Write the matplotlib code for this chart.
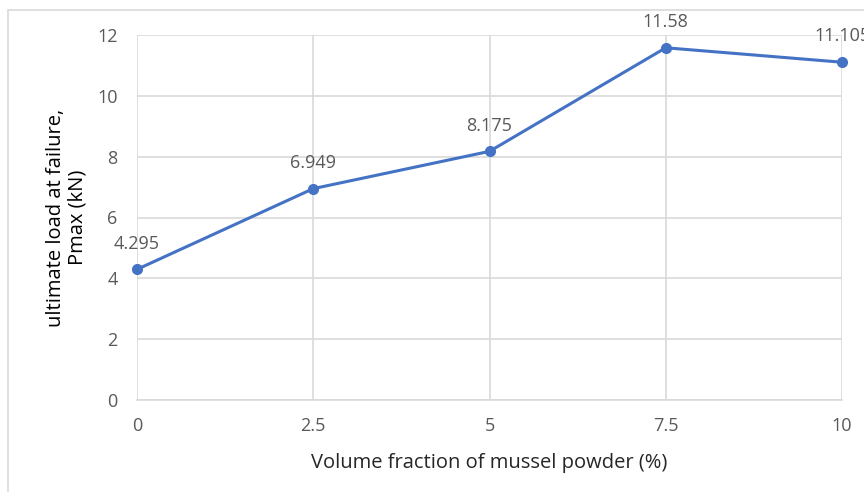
import matplotlib.pyplot as plt
from matplotlib.patches import Rectangle

plt.rcParams['font.family'] = ['Open Sans', 'DejaVu Sans']

volume_fraction = [0, 2.5, 5, 7.5, 10]
ultimate_load = [4.295, 6.949, 8.175, 11.58, 11.105]
load_labels = ['4.295', '6.949', '8.175', '11.58', '11.105']
y_ticks = [0, 2, 4, 6, 8, 10, 12]
x_ticks = [0, 2.5, 5, 7.5, 10]
x_tick_labels = ['0', '2.5', '5', '7.5', '10']

fig = plt.figure(figsize=(8.64, 4.92), dpi=100)
ax = fig.add_axes([137 / 864, 1 - 400 / 492, (842 - 137) / 864, (400 - 35) / 492])

# chart area border (light grey, only left/top visible in the crop)
fig.patches.append(Rectangle((8 / 864, -0.1), 1.2, 1 - 10 / 492 + 0.1,
                             transform=fig.transFigure, fill=False,
                             edgecolor='#d9d9d9', linewidth=1.2))

ax.plot(volume_fraction, ultimate_load, color='#4472c4', linewidth=2.2,
        marker='o', markersize=7, zorder=3, clip_on=False)

for x, y, lab in zip(volume_fraction, ultimate_load, load_labels):
    ax.annotate(lab, (x, y), xytext=(0, 15), textcoords='offset points',
                ha='center', va='baseline', fontsize=13, color='#595959',
                annotation_clip=False)

ax.set_xlim(0, 10)
ax.set_ylim(0, 12)
ax.set_xticks(x_ticks)
ax.set_xticklabels(x_tick_labels)
ax.set_yticks(y_ticks)
ax.grid(True, color='#d9d9d9', linewidth=1.2)
ax.set_axisbelow(True)
for s in ax.spines.values():
    s.set_visible(False)
ax.spines['bottom'].set_visible(True)
ax.spines['bottom'].set_color('#d9d9d9')
ax.spines['bottom'].set_linewidth(1.2)
ax.tick_params(length=0, labelsize=13, labelcolor='#595959')
ax.tick_params(axis='x', pad=12)
ax.tick_params(axis='y', pad=14)

ax.set_xlabel('Volume fraction of mussel powder (%)', fontsize=14.5,
              color='#262626', labelpad=13)
ax.set_ylabel('ultimate load at failure,\nPmax (kN)', fontsize=14.5,
              color='#000000', labelpad=7, linespacing=1.1)

fig.savefig('out.png', dpi=100)
